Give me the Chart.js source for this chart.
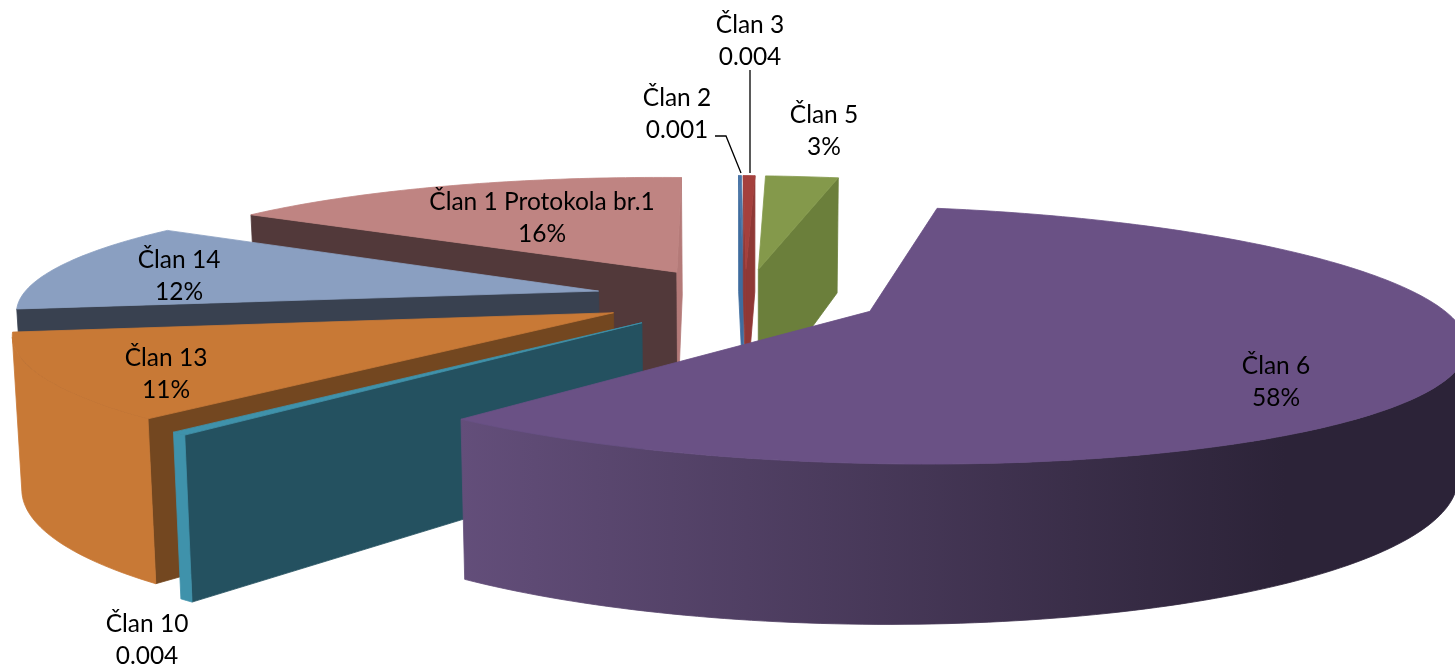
<!DOCTYPE html>
<html>
<head>
<meta charset="utf-8">
<title>Članovi</title>
<script src="https://cdn.jsdelivr.net/npm/chart.js@4"></script>
<style>
    body { margin: 0; background: #ffffff; }
    canvas { display: block; }
</style>
</head>
<body>
<canvas id="pieChart" width="1455" height="670"></canvas>
<script>
// Chart data
const categories = ['Član 1 Protokola br.1', 'Član 2', 'Član 3', 'Član 5', 'Član 6', 'Član 10', 'Član 13', 'Član 14'];
const shares = [16.2, 0.1, 0.4, 2.5, 58.4, 0.4, 10.6, 11.9];
const valueLabels = ['16%', '0.001', '0.004', '3%', '58%', '0.004', '11%', '12%'];
const explode = [0.25, 0.25, 0.25, 0.25, 0.236, 0.27, 0.26, 0.262];

// Slice colours
const topColors = ['#bf8482', '#4b76a8', '#a5403d', '#84994b', '#6a5185', '#3f92ab', '#c87936', '#8a9fc1'];
const startWallColors = ['#52393a', '#3f6c9e', '#8f3836', '#6b7f3b', '#2c2338', '#245160', '#734720', '#394150'];
const endWallColors = ['#b47a78', '#3f6c9e', '#8f3836', '#6b7f3b', '#2c2338', '#3f92ab', '#c87936', '#8a9fc1'];
const outerColors = ['#bf8482', '#4b76a8', '#a5403d', '#84994b', ['#634e7a', '#2c2338'], '#3f92ab', '#c87936', '#8a9fc1'];

// Back to front
const drawOrder = [0, 1, 2, 3, 7, 6, 5, 4];

// Perspective of the pie plane on the page
const view = { cx: 745, cy: 298, scaleX: 572, scaleY: 120, roll: 6, tilt: 0.18, depthBase: 28, depthNear: 108, depthRoll: 8, sideLean: 0.987 };

function project(x, y) {
    const w = 1 - view.tilt * y;
    const sx = view.cx + view.scaleX * x / w;
    const sy = view.cy + (view.scaleY * y + view.roll * x) / w;
    return {
        x: sx,
        y: sy,
        bx: view.cx + (sx - view.cx) * view.sideLean,
        by: sy + view.depthBase + (view.depthNear - view.depthRoll * x) / w
    };
}

// Outline of one slice from the angles that Chart.js worked out
function sliceOutline(arc) {
    const { startAngle, endAngle, outerRadius } = arc.getProps(['startAngle', 'endAngle', 'outerRadius'], true);
    const e = arc.options.offset / outerRadius;
    const mid = (startAngle + endAngle) / 2;
    const ox = Math.cos(mid) * e;
    const oy = Math.sin(mid) * e;
    const pts = [project(ox, oy)];
    const steps = Math.max(2, Math.ceil((endAngle - startAngle) / 0.02));
    for (let i = 0; i <= steps; i++) {
        const a = startAngle + (endAngle - startAngle) * i / steps;
        pts.push(project(ox + Math.cos(a), oy + Math.sin(a)));
    }
    return pts;
}

function facesViewer(p, q) {
    const poly = [[p.x, p.y], [q.x, q.y], [q.bx, q.by], [p.bx, p.by]];
    let area = 0;
    poly.forEach((pt, i) => {
        const n = poly[(i + 1) % 4];
        area += pt[0] * n[1] - n[0] * pt[1];
    });
    return area < 0;
}

// Wall under a run of top edge points
function fillWall(ctx, run, fill) {
    ctx.fillStyle = fill;
    ctx.strokeStyle = fill;
    ctx.lineWidth = 0.8;
    ctx.beginPath();
    run.forEach((p, k) => (k ? ctx.lineTo(p.x, p.y) : ctx.moveTo(p.x, p.y)));
    run.slice().reverse().forEach(p => ctx.lineTo(p.bx, p.by));
    ctx.closePath();
    ctx.fill();
    ctx.stroke();
}

function drawSlice(ctx, arc, i) {
    const pts = sliceOutline(arc);
    const last = pts.length - 1;

    let outer = outerColors[i];
    if (Array.isArray(outer)) {
        const grad = ctx.createLinearGradient(view.cx - 285, 0, view.cx + 540, 0);
        grad.addColorStop(0, outer[0]);
        grad.addColorStop(1, outer[1]);
        outer = grad;
    }

    // tip -> start edge, the rim, end edge -> tip
    if (facesViewer(pts[0], pts[1])) fillWall(ctx, [pts[0], pts[1]], startWallColors[i]);
    if (facesViewer(pts[last], pts[0])) fillWall(ctx, [pts[last], pts[0]], endWallColors[i]);
    let run = [];
    for (let k = 1; k < last; k++) {
        if (facesViewer(pts[k], pts[k + 1])) {
            if (!run.length) run.push(pts[k]);
            run.push(pts[k + 1]);
        } else if (run.length) {
            fillWall(ctx, run, outer);
            run = [];
        }
    }
    if (run.length) fillWall(ctx, run, outer);

    ctx.fillStyle = topColors[i];
    ctx.strokeStyle = topColors[i];
    ctx.lineWidth = 0.8;
    ctx.beginPath();
    pts.forEach((p, k) => (k ? ctx.lineTo(p.x, p.y) : ctx.moveTo(p.x, p.y)));
    ctx.closePath();
    ctx.fill();
    ctx.stroke();
}

const pie3d = {
    id: 'pie3d',
    beforeDatasetDraw() {
        return false;
    },
    afterDatasetsDraw(chart, args, opts) {
        const ctx = chart.ctx;
        const arcs = chart.getDatasetMeta(0).data;
        ctx.save();
        drawOrder.forEach(i => drawSlice(ctx, arcs[i], i));

        // Leader lines
        ctx.strokeStyle = '#000000';
        ctx.lineWidth = 1.3;
        opts.leaders.forEach(line => {
            ctx.beginPath();
            line.forEach((p, k) => (k ? ctx.lineTo(p[0], p[1]) : ctx.moveTo(p[0], p[1])));
            ctx.stroke();
        });

        // Labels
        ctx.fillStyle = '#000000';
        ctx.font = opts.font;
        ctx.textAlign = 'center';
        ctx.textBaseline = 'middle';
        categories.forEach((name, i) => {
            const [x, y] = opts.labelAt[i];
            ctx.fillText(name, x, y);
            ctx.fillText(valueLabels[i], x, y + 32.5);
        });
        ctx.restore();
    }
};

const chartRadius = 200;

new Chart(document.getElementById('pieChart').getContext('2d'), {
    type: 'pie',
    data: {
        labels: categories,
        datasets: [{
            data: shares,
            backgroundColor: topColors,
            borderWidth: 0,
            offset: explode.map(e => e * chartRadius)
        }]
    },
    options: {
        responsive: false,
        animation: false,
        radius: chartRadius,
        rotation: -58.7,
        plugins: {
            legend: { display: false },
            tooltip: { enabled: false },
            pie3d: {
                font: '24.5px Lato, Carlito, sans-serif',
                labelAt: [[542, 202], [677, 98], [750, 25], [824, 115], [1276, 366], [147, 624], [166, 358], [179, 260]],
                leaders: [
                    [[715, 136], [726, 136], [741, 173]],
                    [[750, 70], [750, 173]]
                ]
            }
        }
    },
    plugins: [pie3d]
});
</script>
</body>
</html>
